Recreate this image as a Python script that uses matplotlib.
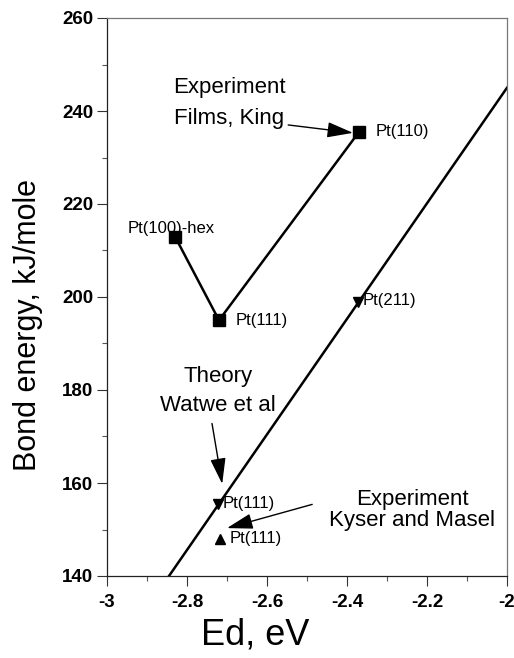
import matplotlib
matplotlib.use("Agg")
import matplotlib.pyplot as plt
from matplotlib.ticker import MultipleLocator, FixedLocator

plt.rcParams['font.family'] = ['Liberation Sans', 'DejaVu Sans']

# ---- data ----
king_x = [-2.83, -2.72, -2.37]
king_y = [213.0, 195.0, 235.5]
king_labels = ["Pt(100)-hex", "Pt(111)", "Pt(110)"]

theory_line_x = [-2.845, -2.0]
theory_line_y = [140.0, 245.0]
theory_x = [-2.372, -2.722]
theory_y = [199.0, 155.5]
theory_labels = ["Pt(211)", "Pt(111)"]

kyser_x = [-2.717]
kyser_y = [148.0]
kyser_labels = ["Pt(111)"]

xticks = [-3, -2.8, -2.6, -2.4, -2.2, -2]
xtick_labels = ["-3", "-2.8", "-2.6", "-2.4", "-2.2", "-2"]
yticks = [140, 160, 180, 200, 220, 240, 260]
ytick_labels = ["140", "160", "180", "200", "220", "240", "260"]

fig = plt.figure(figsize=(5.14, 6.58), dpi=100)
ax = fig.add_axes([107/514, 1-576/658, 400/514, 558/658])

ax.plot(king_x, king_y, color='black', lw=1.8, marker='s', ms=8, zorder=3)
ax.plot(theory_line_x, theory_line_y, color='black', lw=1.8, zorder=2)
ax.plot(theory_x, theory_y, ls='none', color='black', marker='v', ms=7, zorder=3)
ax.plot(kyser_x, kyser_y, ls='none', color='black', marker='^', ms=7, zorder=3)

lab_fs = 12
# point labels (offsets in points)
offs_king = [(-34, 6), (12, 0), (12, 0)]
for x, y, t, (dx, dy) in zip(king_x, king_y, king_labels, offs_king):
    ax.annotate(t, (x, y), xytext=(dx, dy), textcoords='offset points',
                ha='left', va='center', fontsize=lab_fs)
offs_th = [(3, 1), (3, 0)]
for x, y, t, (dx, dy) in zip(theory_x, theory_y, theory_labels, offs_th):
    ax.annotate(t, (x, y), xytext=(dx, dy), textcoords='offset points',
                ha='left', va='center', fontsize=lab_fs)
for x, y, t in zip(kyser_x, kyser_y, kyser_labels):
    ax.annotate(t, (x, y), xytext=(7, 0), textcoords='offset points',
                ha='left', va='center', fontsize=lab_fs)

ann_fs = 16
aprops = dict(arrowstyle='-|>,head_length=0.8,head_width=0.24', mutation_scale=20,
              lw=1.0, color='black', shrinkA=0, shrinkB=0)

# Experiment Films, King
ax.text(-2.695, 245.0, "Experiment", ha='center', va='center', fontsize=ann_fs)
ax.text(-2.695, 238.3, "Films, King", ha='center', va='center', fontsize=ann_fs)
ax.annotate('', xy=(-2.385, 235.3), xytext=(-2.547, 237.0), arrowprops=aprops)

# Theory Watwe et al
ax.text(-2.723, 182.8, "Theory", ha='center', va='center', fontsize=ann_fs)
ax.text(-2.723, 176.7, "Watwe et al", ha='center', va='center', fontsize=ann_fs)
ax.annotate('', xy=(-2.712, 159.8), xytext=(-2.7375, 172.8), arrowprops=aprops)

# Experiment Kyser and Masel
ax.text(-2.237, 156.4, "Experiment", ha='center', va='center', fontsize=ann_fs)
ax.text(-2.237, 151.9, "Kyser and Masel", ha='center', va='center', fontsize=ann_fs)
ax.annotate('', xy=(-2.70, 150.3), xytext=(-2.487, 155.4), arrowprops=aprops)

ax.set_xlim(-3, -2)
ax.set_ylim(140, 260)
ax.xaxis.set_major_locator(FixedLocator(xticks))
ax.set_xticklabels(xtick_labels, fontweight='bold', fontsize=13.5)
ax.yaxis.set_major_locator(FixedLocator(yticks))
ax.set_yticklabels(ytick_labels, fontweight='bold', fontsize=13.5)
ax.xaxis.set_minor_locator(MultipleLocator(0.1))
ax.yaxis.set_minor_locator(MultipleLocator(10))
ax.tick_params(which='major', direction='out', length=7, width=0.8, color='#333333')
ax.tick_params(axis='x', which='major', pad=6)
ax.tick_params(axis='y', which='major', pad=3)
ax.tick_params(which='minor', direction='out', length=3.5, width=0.8, color='#555555')

for s in ['left', 'bottom']:
    ax.spines[s].set_color('#222222')
    ax.spines[s].set_linewidth(0.9)
for s in ['top', 'right']:
    ax.spines[s].set_color('#777777')
    ax.spines[s].set_linewidth(0.9)

ax.set_xlabel("Ed, eV", fontsize=26)
ax.xaxis.set_label_coords(0.37, -0.075)
ax.set_ylabel("Bond energy, kJ/mole", fontsize=22)
ax.yaxis.set_label_coords(-0.16, 0.45)

fig.savefig("out.png", dpi=100)
